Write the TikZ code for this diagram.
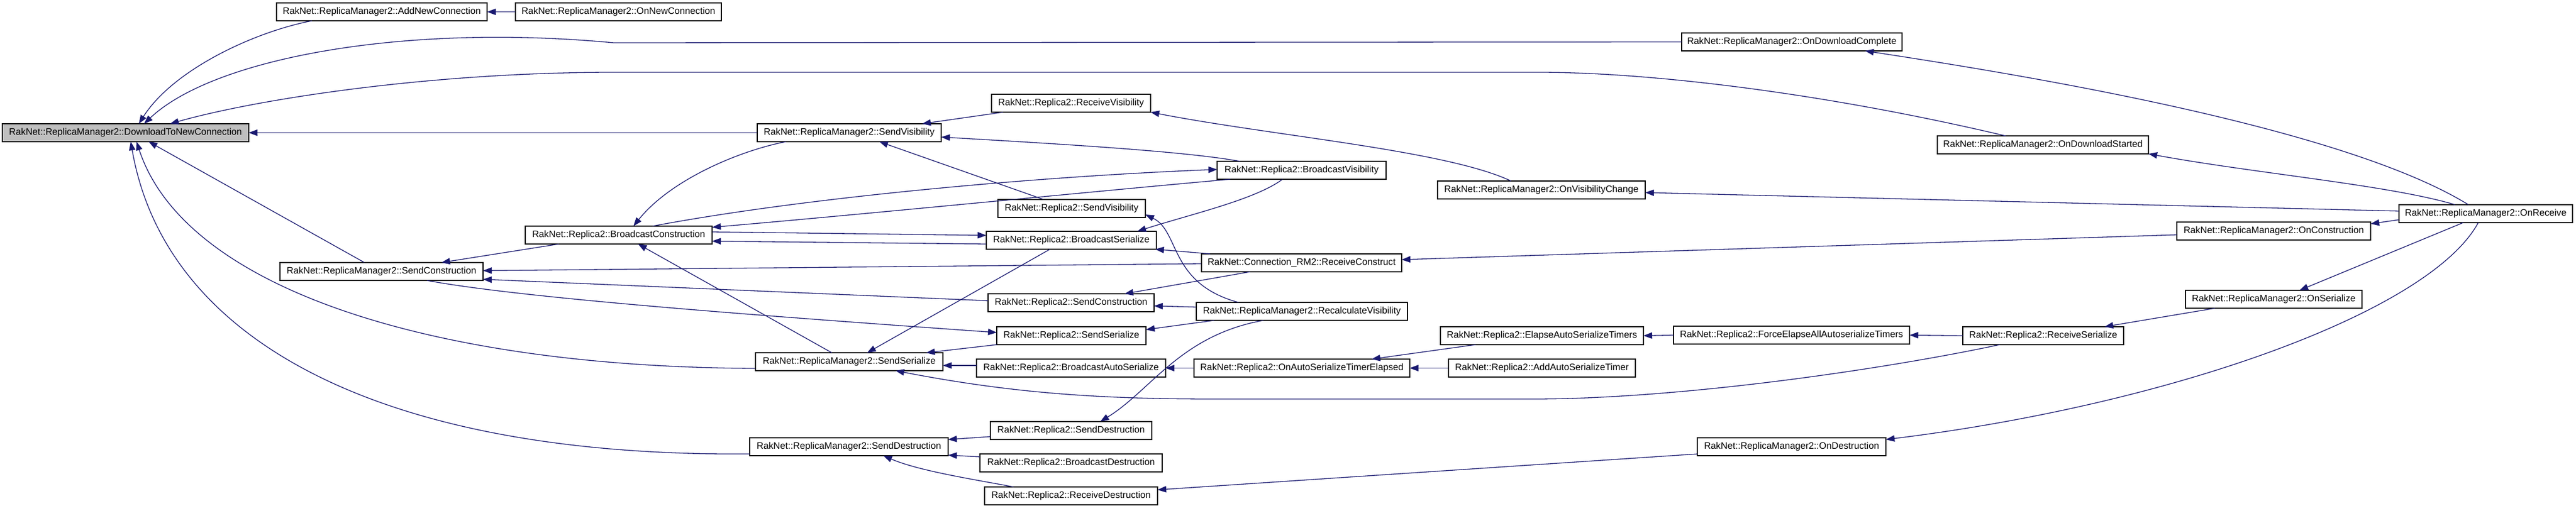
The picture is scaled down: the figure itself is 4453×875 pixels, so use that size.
\documentclass[tikz,border=0pt]{standalone}
\usepackage{fontspec}
\setmainfont{Liberation Sans}
\usetikzlibrary{arrows.meta,calc}
\definecolor{edgecol}{RGB}{25,25,112}
\definecolor{rootfill}{RGB}{191,191,191}
\begin{document}
\begin{tikzpicture}[x=1bp,y=-1bp,
  box/.style={draw=black, line width=1.4bp, fill=white, anchor=north west, inner sep=0pt, outer sep=0pt,
    minimum height=31bp, font=\fontsize{16.2bp}{19bp}\selectfont, text=black},
  rootbox/.style={box, fill=rootfill},
  edge/.style={draw=edgecol, line width=1.3bp, {Triangle[length=15bp,width=11bp]}-}]
\useasboundingbox[fill=white] (0,0) rectangle (4453,875);

% nodes
\node[rootbox, minimum width=426bp] (dtnc) at (4,214) {RakNet::ReplicaManager2::DownloadToNewConnection};
\node[box, minimum width=364bp] (addnew) at (478,5) {RakNet::ReplicaManager2::AddNewConnection};
\node[box, minimum width=356bp] (onnew) at (891,5) {RakNet::ReplicaManager2::OnNewConnection};
\node[box, minimum width=381bp] (ondlc) at (2907,57) {RakNet::ReplicaManager2::OnDownloadComplete};
\node[box, minimum width=318bp] (rmsendvis) at (1309,214) {RakNet::ReplicaManager2::SendVisibility};
\node[box, minimum width=275bp] (recvvis) at (1714,163) {RakNet::Replica2::ReceiveVisibility};
\node[box, minimum width=292bp] (bcastvis) at (2104,279) {RakNet::Replica2::BroadcastVisibility};
\node[box, minimum width=365bp] (ondls) at (3349,235) {RakNet::ReplicaManager2::OnDownloadStarted};
\node[box, minimum width=359bp] (onvischg) at (2485,313) {RakNet::ReplicaManager2::OnVisibilityChange};
\node[box, minimum width=255bp] (rsendvis) at (1725,345) {RakNet::Replica2::SendVisibility};
\node[box, minimum width=323bp] (bcastcons) at (908,391) {RakNet::Replica2::BroadcastConstruction};
\node[box, minimum width=294bp] (bcastser) at (1705,400) {RakNet::Replica2::BroadcastSerialize};
\node[box, minimum width=346bp] (recvcons) at (2077,439) {RakNet::Connection\_RM2::ReceiveConstruct};
\node[box, minimum width=335bp] (oncons) at (3763,384) {RakNet::ReplicaManager2::OnConstruction};
\node[box, minimum width=300bp] (onrecv) at (4147,354) {RakNet::ReplicaManager2::OnReceive};
\node[box, minimum width=351bp] (rmsendcons) at (484,454) {RakNet::ReplicaManager2::SendConstruction};
\node[box, minimum width=287bp] (rsendcons) at (1708,508) {RakNet::Replica2::SendConstruction};
\node[box, minimum width=365bp] (recalc) at (2068,523) {RakNet::ReplicaManager2::RecalculateVisibility};
\node[box, minimum width=258bp] (rsendser) at (1723,565) {RakNet::Replica2::SendSerialize};
\node[box, minimum width=305bp] (onser) at (3778,502) {RakNet::ReplicaManager2::OnSerialize};
\node[box, minimum width=351bp] (elapse) at (2490,565) {RakNet::Replica2::ElapseAutoSerializeTimers};
\node[box, minimum width=408bp] (force) at (2893,564) {RakNet::Replica2::ForceElapseAllAutoserializeTimers};
\node[box, minimum width=278bp] (recvser) at (3393,565) {RakNet::Replica2::ReceiveSerialize};
\node[box, minimum width=324bp] (rmsendser) at (1306,610) {RakNet::ReplicaManager2::SendSerialize};
\node[box, minimum width=327bp] (bcastauto) at (1688,621) {RakNet::Replica2::BroadcastAutoSerialize};
\node[box, minimum width=373bp] (onauto) at (2064,621) {RakNet::Replica2::OnAutoSerializeTimerElapsed};
\node[box, minimum width=323bp] (addauto) at (2504,621) {RakNet::Replica2::AddAutoSerializeTimer};
\node[box, minimum width=279bp] (rsenddes) at (1712,729) {RakNet::Replica2::SendDestruction};
\node[box, minimum width=343bp] (rmsenddes) at (1296,757) {RakNet::ReplicaManager2::SendDestruction};
\node[box, minimum width=315bp] (bcastdes) at (1694,785) {RakNet::Replica2::BroadcastDestruction};
\node[box, minimum width=326bp] (ondes) at (2934,757) {RakNet::ReplicaManager2::OnDestruction};
\node[box, minimum width=299bp] (recvdes) at (1702,842) {RakNet::Replica2::ReceiveDestruction};

% edges (arrow at the callee end = first point)
\draw[edge] ($(dtnc.north west)+(236,0)$) .. controls (300,120) and (440,55) .. ($(addnew.north west)+(61,31)$);
\draw[edge] (addnew.east) -- (onnew.west);
\draw[edge] ($(dtnc.north west)+(245,0)$) .. controls (370,100) and (700,40) .. (1061,74) -- (ondlc.west);
\draw[edge] ($(dtnc.north west)+(290,0)$) .. controls (450,170) and (750,125) .. (1060,125) -- (2660,125)
   .. controls (2850,125) and (3150,160) .. ($(ondls.north west)+(118,0)$);
\draw[edge] (dtnc.east) -- (rmsendvis.west);
\draw[edge] ($(dtnc.north west)+(253,31)$) -- ($(rmsendcons.north west)+(146,0)$);
\draw[edge] ($(dtnc.north west)+(232,31)$) .. controls (320,500) and (750,635) .. ($(rmsendser.north west)+(0,27)$);
\draw[edge] ($(dtnc.north west)+(222,31)$) .. controls (285,585) and (650,790) .. ($(rmsenddes.north west)+(0,28)$);

\draw[edge] ($(bcastcons.north west)+(187,0)$) .. controls (1160,310) and (1280,260) .. ($(rmsendvis.north west)+(50,31)$);
\draw[edge] ($(rmsendvis.north west)+(285,0)$) -- ($(recvvis.north west)+(20,31)$);
\draw[edge] ($(rmsendvis.north west)+(318,23)$) .. controls (1850,250) and (2050,262) .. ($(bcastvis.north west)+(40,0)$);
\draw[edge] ($(rmsendvis.north west)+(211,31)$) -- ($(rsendvis.north west)+(79,0)$);
\draw[edge] ($(recvvis.north west)+(275,31)$) .. controls (2200,235) and (2500,260) .. ($(onvischg.north west)+(127,0)$);

\draw[edge] ($(bcastcons.north west)+(323,2)$) .. controls (1500,370) and (1900,330) .. ($(bcastvis.north west)+(23,31)$);
\draw[edge] ($(bcastvis.north west)+(0,14)$) .. controls (1800,305) and (1400,340) .. ($(bcastcons.north west)+(220,0)$);
\draw[edge] ($(bcastser.north west)+(0,7)$) -- ($(bcastcons.north west)+(323,10)$);
\draw[edge] ($(bcastcons.north west)+(323,26)$) -- ($(bcastser.north west)+(0,22)$);
\draw[edge] ($(bcastser.north west)+(261,0)$) .. controls (2060,370) and (2170,345) .. ($(bcastvis.north west)+(113,31)$);
\draw[edge] ($(bcastser.north west)+(292,31)$) -- ($(recvcons.north west)+(15,0)$);
\draw[edge] ($(bcastcons.north west)+(195,31)$) -- ($(rmsendser.north west)+(132,0)$);

\draw[edge] ($(rmsendcons.north west)+(279,0)$) -- ($(bcastcons.north west)+(58,31)$);
\draw[edge] ($(rmsendcons.north west)+(351,14)$) -- ($(recvcons.north west)+(0,17)$);
\draw[edge] ($(rmsendcons.north west)+(351,29)$) -- ($(rsendcons.north west)+(0,12)$);
\draw[edge] ($(rsendser.north west)+(0,10)$) .. controls (1300,545) and (900,515) .. ($(rmsendcons.north west)+(254,31)$);

\draw[edge] ($(recvcons.north west)+(346,10)$) -- ($(oncons.north west)+(0,22)$);
\draw[edge] ($(rsendcons.north west)+(236,0)$) -- ($(recvcons.north west)+(84,31)$);
\draw[edge] ($(rsendcons.north west)+(287,21)$) -- ($(recalc.north west)+(0,8)$);
\draw[edge] ($(rsendvis.north west)+(255,26)$) .. controls (2040,400) and (2020,490) .. ($(recalc.north west)+(73,0)$);
\draw[edge] ($(rsendser.north west)+(258,5)$) -- ($(recalc.north west)+(31,31)$);
\draw[edge] ($(rsenddes.north west)+(190,0)$) .. controls (1990,675) and (2040,580) .. ($(recalc.north west)+(116,31)$);

\draw[edge] ($(rmsendser.north west)+(193,0)$) -- ($(bcastser.north west)+(110,31)$);
\draw[edge] ($(rmsendser.north west)+(295,0)$) -- ($(rsendser.north west)+(0,31)$);
\draw[edge] ($(rmsendser.north west)+(324,22)$) -- ($(bcastauto.north west)+(0,11)$);
\draw[edge] ($(rmsendser.north west)+(242,31)$) .. controls (1750,680) and (1900,690) .. (2100,690) -- (2650,690)
   .. controls (2900,690) and (3250,640) .. ($(recvser.north west)+(64,31)$);

\draw[edge] (bcastauto.east) -- (onauto.west);
\draw[edge] (onauto.east) -- (addauto.west);
\draw[edge] ($(onauto.north west)+(307,0)$) -- ($(elapse.north west)+(61,31)$);
\draw[edge] (elapse.east) -- (force.west);
\draw[edge] (force.east) -- (recvser.west);
\draw[edge] ($(recvser.north west)+(245,0)$) -- ($(onser.north west)+(51,31)$);
\draw[edge] ($(onser.north west)+(197,0)$) -- ($(onrecv.north west)+(111,31)$);

\draw[edge] ($(onvischg.north west)+(359,20)$) -- ($(onrecv.north west)+(0,11)$);
\draw[edge] ($(ondls.north west)+(365,31)$) .. controls (3900,300) and (4130,320) .. ($(onrecv.north west)+(97,0)$);
\draw[edge] ($(ondlc.north west)+(317,31)$) .. controls (3500,130) and (4050,220) .. ($(onrecv.north west)+(120,0)$);
\draw[edge] ($(oncons.north west)+(335,3)$) -- ($(onrecv.north west)+(0,26)$);
\draw[edge] ($(ondes.north west)+(326,3)$) .. controls (3750,700) and (4200,540) .. ($(onrecv.north west)+(137,31)$);

\draw[edge] ($(rmsenddes.north west)+(343,3)$) -- ($(rsenddes.north west)+(0,26)$);
\draw[edge] ($(rmsenddes.north west)+(343,30)$) -- ($(bcastdes.north west)+(0,5)$);
\draw[edge] ($(rmsenddes.north west)+(231,31)$) .. controls (1590,815) and (1690,830) .. ($(recvdes.north west)+(50,0)$);
\draw[edge] ($(recvdes.north west)+(299,5)$) -- ($(ondes.north west)+(0,28)$);
\end{tikzpicture}
\end{document}
